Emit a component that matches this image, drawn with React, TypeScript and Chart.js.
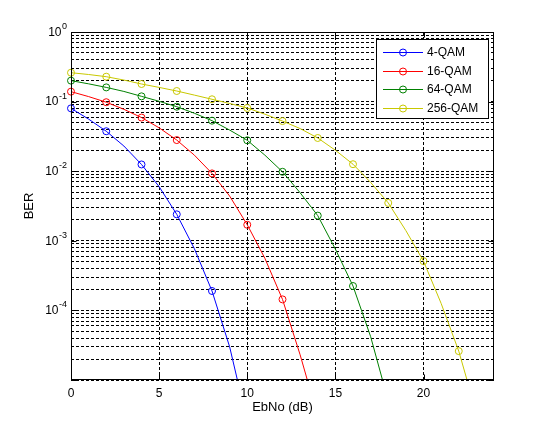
import React, { useEffect, useRef } from 'react';
import { Chart, registerables } from 'chart.js';

Chart.register(...registerables);

// ---- data ----
const EBNO_DB = [0, 1, 2, 3, 4, 5, 6, 7, 8, 9, 10, 11, 12, 13, 14, 15, 16, 17, 18, 19, 20, 21, 22, 23];
const BER_4QAM = [0.08, 0.056, 0.0375, 0.023, 0.0125, 0.006, 0.0024, 7.7e-4, 1.9e-4, 3e-5, 2.5e-6];
const BER_16QAM = [0.139, 0.118, 0.098, 0.0775, 0.059, 0.042, 0.028, 0.017, 0.0093, 0.0044, 0.0017, 5.6e-4, 1.44e-4, 2.3e-5, 3e-6];
const BER_64QAM = [0.2, 0.18, 0.16, 0.14, 0.119, 0.101, 0.0845, 0.068, 0.0532, 0.039, 0.0278, 0.017, 0.0098, 0.0049, 0.0023, 7.6e-4, 2.24e-4, 4.2e-5, 5e-6];
const BER_256QAM = [0.26, 0.245, 0.228, 0.204, 0.179, 0.16, 0.142, 0.124, 0.108, 0.094, 0.081, 0.066, 0.0525, 0.041, 0.03, 0.02, 0.0126, 0.0069, 0.0035, 0.0014, 5.1e-4, 1.26e-4, 2.6e-5, 3.4e-6];
const SERIES_NAMES = ['4-QAM', '16-QAM', '64-QAM', '256-QAM'];
const SERIES_VALUES = [BER_4QAM, BER_16QAM, BER_64QAM, BER_256QAM];
const SERIES_COLORS = ['#0000ff', '#ff0000', '#008000', '#c8c800'];
const MARKER_STEP_DB = 2;
const X_TICKS = [0, 5, 10, 15, 20];
const X_MIN = 0;
const X_MAX = 24;
const Y_DECADE_EXPONENTS = [-5, -4, -3, -2, -1, 0];
const Y_LABELED_EXPONENTS = [-4, -3, -2, -1, 0];
const Y_MINOR_MULTIPLIERS = [1, 2, 3, 4, 5, 6, 7, 8, 9];

const FONT = '"Liberation Sans", Arial, Helvetica, sans-serif';

function buildYTicks() {
  const ticks: { value: number }[] = [];
  for (const e of Y_DECADE_EXPONENTS) {
    if (e === 0) {
      ticks.push({ value: 1 });
      continue;
    }
    for (const m of Y_MINOR_MULTIPLIERS) {
      ticks.push({ value: Number((m * Math.pow(10, e)).toPrecision(3)) });
    }
  }
  return ticks;
}

const yLabelPlugin = {
  id: 'yLabels',
  afterDraw(chart: any) {
    const { ctx } = chart;
    const y = chart.scales.y;
    const right = chart.chartArea.left - 4;
    ctx.save();
    ctx.fillStyle = '#000';
    for (const e of Y_LABELED_EXPONENTS) {
      const py = y.getPixelForValue(Math.pow(10, e));
      const expStr = e === 0 ? '0' : '-' + Math.abs(e);
      ctx.font = '9px ' + FONT;
      const ew = ctx.measureText(expStr).width;
      const ex = right - ew;
      ctx.textAlign = 'left';
      ctx.textBaseline = 'alphabetic';
      ctx.fillText(expStr, ex, py - 3);
      ctx.font = '12px ' + FONT;
      ctx.textAlign = 'right';
      ctx.textBaseline = 'middle';
      ctx.fillText('10', ex - 0.5, py + 0.5);
    }
    ctx.restore();
  },
};

const boxPlugin = {
  id: 'axesBox',
  afterDatasetsDraw(chart: any) {
    const { ctx, chartArea: a } = chart;
    const x = chart.scales.x;
    const y = chart.scales.y;
    const L = Math.round(a.left) + 0.5;
    const T = Math.round(a.top) + 0.5;
    const R = Math.round(a.right) - 0.5;
    const B = Math.round(a.bottom) - 0.5;
    ctx.save();
    ctx.strokeStyle = '#000';
    ctx.lineWidth = 1;
    ctx.setLineDash([]);
    ctx.strokeRect(L, T, R - L, B - T);
    ctx.beginPath();
    const tick = 5;
    for (const v of X_TICKS) {
      const px = Math.round(x.getPixelForValue(v)) + 0.5;
      ctx.moveTo(px, B);
      ctx.lineTo(px, B - tick);
      ctx.moveTo(px, T);
      ctx.lineTo(px, T + tick);
    }
    for (const e of Y_DECADE_EXPONENTS) {
      const py = Math.round(y.getPixelForValue(Math.pow(10, e))) + 0.5;
      ctx.moveTo(L, py);
      ctx.lineTo(L + tick, py);
      ctx.moveTo(R, py);
      ctx.lineTo(R - tick, py);
    }
    ctx.stroke();
    ctx.restore();
  },
};

const legendPlugin = {
  id: 'matlabLegend',
  afterDraw(chart: any) {
    const { ctx, chartArea: a } = chart;
    const boxRight = a.right - 6;
    const boxTop = a.top + 7;
    const boxW = 112;
    const rowH = 18.5;
    const boxH = 79;
    const boxLeft = boxRight - boxW;
    ctx.save();
    ctx.fillStyle = '#fff';
    ctx.fillRect(boxLeft, boxTop, boxW, boxH);
    ctx.strokeStyle = '#000';
    ctx.lineWidth = 1;
    ctx.strokeRect(Math.round(boxLeft) + 0.5, Math.round(boxTop) + 0.5, boxW, boxH);
    ctx.font = '12px ' + FONT;
    ctx.textBaseline = 'middle';
    ctx.textAlign = 'left';
    SERIES_NAMES.forEach((name, i) => {
      const cy = Math.round(boxTop + 13 + i * rowH) + 0.5;
      ctx.strokeStyle = SERIES_COLORS[i];
      ctx.beginPath();
      ctx.moveTo(boxLeft + 7, cy);
      ctx.lineTo(boxLeft + 47, cy);
      ctx.stroke();
      ctx.beginPath();
      ctx.arc(boxLeft + 27, cy, 3.5, 0, Math.PI * 2);
      ctx.stroke();
      ctx.fillStyle = '#000';
      ctx.fillText(name, boxLeft + 51, cy + 0.5);
    });
    ctx.restore();
  },
};

export default function App() {
  const canvasRef = useRef<HTMLCanvasElement | null>(null);

  useEffect(() => {
    const canvas = canvasRef.current;
    if (!canvas) return;
    const datasets = SERIES_NAMES.map((name, i) => ({
      label: name,
      data: SERIES_VALUES[i].map((v, j) => ({ x: EBNO_DB[j], y: v })),
      borderColor: SERIES_COLORS[i],
      backgroundColor: 'transparent',
      borderWidth: 1,
      pointBorderColor: SERIES_COLORS[i],
      pointBackgroundColor: 'transparent',
      pointBorderWidth: 1,
      pointRadius: (c: any) => (c.raw && c.raw.x % MARKER_STEP_DB === 0 && c.raw.y >= 1e-5 ? 3.5 : 0),
      pointHoverRadius: 0,
      tension: 0,
      clip: { left: 6, top: 0, right: 0, bottom: 0 },
    }));

    const chart = new Chart(canvas, {
      type: 'line',
      data: { datasets },
      plugins: [boxPlugin, yLabelPlugin, legendPlugin],
      options: {
        animation: false,
        responsive: false,
        events: [],
        layout: { padding: { left: 0, right: 52, top: 32, bottom: 0 } },
        plugins: { legend: { display: false }, tooltip: { enabled: false } },
        scales: {
          x: {
            type: 'linear',
            min: X_MIN,
            max: X_MAX,
            afterBuildTicks: (s: any) => {
              s.ticks = X_TICKS.map((v) => ({ value: v }));
            },
            afterFit: (s: any) => {
              s.height = 47;
            },
            grid: { color: '#000', lineWidth: 1, drawTicks: false },
            border: { display: false, dash: [3, 2] },
            ticks: { color: '#000', font: { family: FONT, size: 12 }, padding: 6, maxRotation: 0, autoSkip: false },
            title: { display: true, text: 'EbNo (dB)', color: '#000', font: { family: FONT, size: 13 }, padding: { top: 0, bottom: 12 } },
          },
          y: {
            type: 'logarithmic',
            min: 1e-5,
            max: 1,
            afterBuildTicks: (s: any) => {
              s.ticks = buildYTicks();
            },
            afterFit: (s: any) => {
              s.width = 71;
            },
            grid: { color: '#000', lineWidth: 1, drawTicks: false },
            border: { display: false, dash: [3, 2] },
            ticks: { callback: () => '', autoSkip: false },
            title: { display: true, text: 'BER', color: '#000', font: { family: FONT, size: 13 }, padding: { top: 22, bottom: 0 } },
          },
        },
      },
    } as any);
    return () => chart.destroy();
  }, []);

  return (
    <div style={{ position: 'fixed', left: 0, top: 0, width: 546, height: 427, background: '#fff' }}>
      <canvas ref={canvasRef} width={546} height={427} style={{ display: 'block' }} />
    </div>
  );
}
